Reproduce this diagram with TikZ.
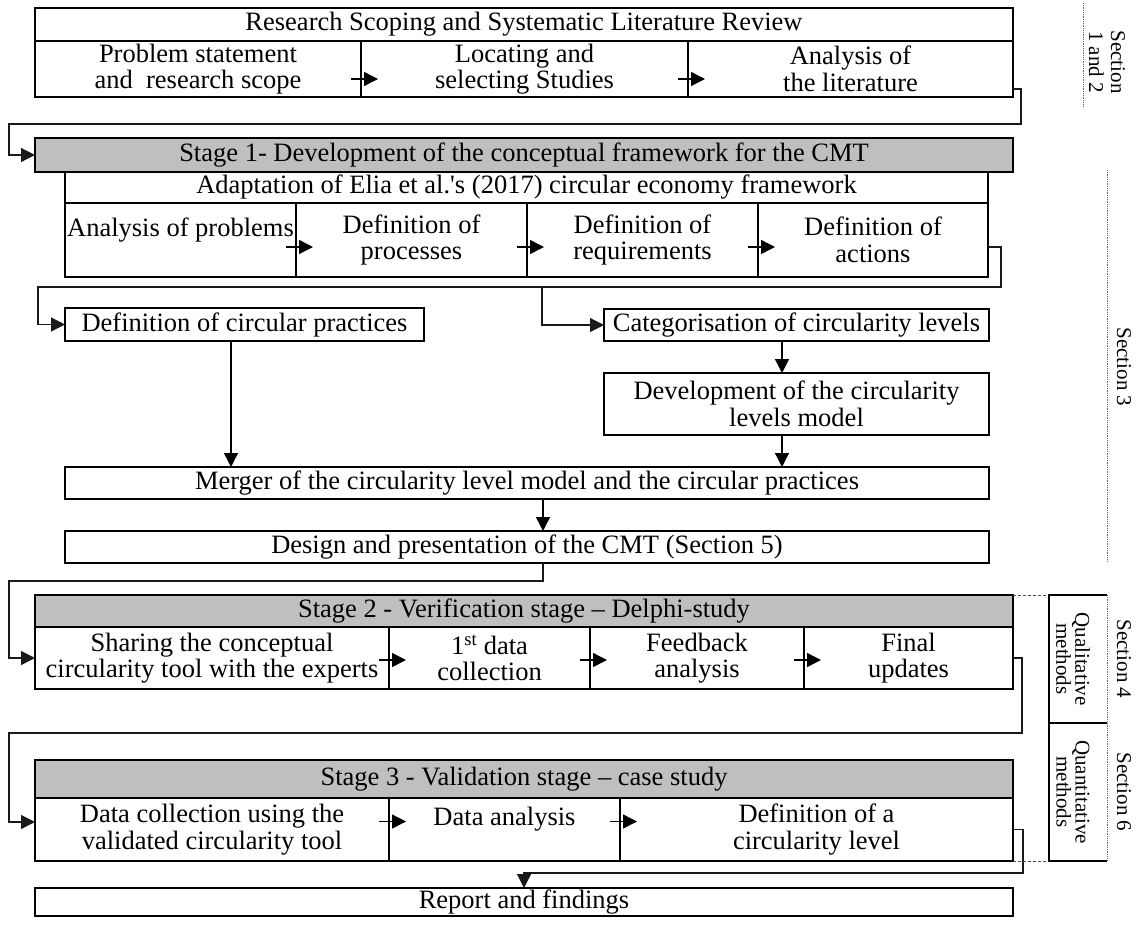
\documentclass[tikz,border=0pt]{standalone}
\usepackage{fontspec}
\setmainfont{Liberation Serif}[Ligatures=TeXOff]
\usetikzlibrary{arrows.meta}
\begin{document}
\begin{tikzpicture}[x=1pt,y=-1pt,
  cell/.style={draw=black, line width=1.6pt, anchor=north west, inner sep=0pt, outer sep=0pt,
    align=center, font=\fontsize{26.5}{26.5}\selectfont},
  head/.style={cell, fill=black!25},
  arr/.style={line width=1.4pt, -{Triangle[length=14pt,width=14pt]}},
  conn/.style={line width=1.2pt, draw=black!90, -{Triangle[length=14pt,width=14pt]}},
  dotline/.style={line width=0.8pt, draw=black!60, densely dotted},
  dashline/.style={line width=0.8pt, draw=black!70, densely dashed},
  sideline/.style={line width=1.6pt, draw=black},
  side/.style={inner sep=0pt, align=center, rotate=-90, font=\fontsize{21}{17}\selectfont}
]
\useasboundingbox (0,0) rectangle (1137,927);

% ---- Research scoping
\node[cell, minimum width=978pt, minimum height=33pt] (t0) at (35,8) {Research Scoping and Systematic Literature Review};
\node[cell, minimum width=326pt, minimum height=56pt] (t1) at (35,41) {Problem statement\\and~ research scope};
\node[cell, minimum width=327pt, minimum height=56pt] (t2) at (361,41) {Locating and\\selecting Studies};
\node[cell, minimum width=325pt, minimum height=56pt] (t3) at (688,41) {Analysis of\\the literature};
\draw[arr] ([shift={(-10,10)}]t1.east) -- ([shift={(17,10)}]t2.west);
\draw[arr] ([shift={(-10,10)}]t2.east) -- ([shift={(17,10)}]t3.west);

% ---- Stage 1
\node[head, minimum width=978pt, minimum height=34pt] (s1h) at (35,138) {Stage 1- Development of the conceptual framework for the CMT};
\node[cell, minimum width=923pt, minimum height=31pt] (s1a) at (65,172) {Adaptation of Elia et al.'s (2017) circular economy framework};
\node[cell, minimum width=231pt, minimum height=74pt] (s1c1) at (65,203) {Analysis of problems\\~};
\node[cell, minimum width=231pt, minimum height=74pt] (s1c2) at (296,203) {Definition of\\processes};
\node[cell, minimum width=231pt, minimum height=74pt] (s1c3) at (527,203) {Definition of\\requirements};
\node[cell, minimum width=230pt, minimum height=74pt] (s1c4) at (758,203) {Definition of\\actions};
\draw[arr] ([shift={(-10,7)}]s1c1.east) -- ([shift={(17,7)}]s1c2.west);
\draw[arr] ([shift={(-10,7)}]s1c2.east) -- ([shift={(17,7)}]s1c3.west);
\draw[arr] ([shift={(-10,7)}]s1c3.east) -- ([shift={(17,7)}]s1c4.west);

\draw[conn] ([yshift=-20pt]t3.east) -- ++(8,0) -- ++(0,35) -- (9,124) |- (s1h.west);

% ---- conceptual development
\node[cell, minimum width=359pt, minimum height=33pt] (dcp) at (65,308) {Definition of circular practices};
\node[cell, minimum width=385pt, minimum height=32pt] (cat) at (604,309) {Categorisation of circularity levels};
\node[cell, minimum width=385pt, minimum height=62pt] (dev) at (604,373) {Development of the circularity\\levels model};
\node[cell, minimum width=924pt, minimum height=32pt] (mer) at (65,467) {Merger of the circularity level model and the circular practices};
\node[cell, minimum width=924pt, minimum height=32pt] (des) at (65,531) {Design and presentation of the CMT (Section 5)};

\coordinate (br) at (542,287);
\draw[conn] ([yshift=-7pt]s1c4.east) -- ++(13,0) -- ++(0,40) -- (38,287) |- (dcp.west);
\draw[conn] (br) |- (cat.west);
\draw[arr] ([xshift=-14.5pt]cat.south) -- ([xshift=-14.5pt]dev.north);
\draw[arr] ([xshift=-14.5pt]dev.south) -- ([xshift=-14.5pt]dev.south |- mer.north);
\draw[arr] ([xshift=-13.5pt]dcp.south) -- ([xshift=-13.5pt]dcp.south |- mer.north);
\draw[arr] ([xshift=16pt]mer.south) -- ([xshift=16pt]des.north);

% ---- Stage 2
\node[head, minimum width=978pt, minimum height=32pt] (s2h) at (35,595) {Stage 2 - Verification stage – Delphi-study};
\node[cell, minimum width=354pt, minimum height=62pt] (s2c1) at (35,627) {Sharing the conceptual\\circularity tool with the experts};
\node[cell, minimum width=201pt, minimum height=62pt] (s2c2) at (389,627) {1\textsuperscript{st} data\\collection};
\node[cell, minimum width=214pt, minimum height=62pt] (s2c3) at (590,627) {Feedback\\analysis};
\node[cell, minimum width=209pt, minimum height=62pt] (s2c4) at (804,627) {Final\\updates};
\draw[arr] ([shift={(-10,2)}]s2c1.east) -- ([shift={(17,2)}]s2c2.west);
\draw[arr] ([shift={(-10,2)}]s2c2.east) -- ([shift={(17,2)}]s2c3.west);
\draw[arr] ([shift={(-10,2)}]s2c3.east) -- ([shift={(17,2)}]s2c4.west);

\draw[conn] ([xshift=16pt]des.south) -- ++(0,18) -- (9,581) |- (s2c1.west);

% ---- Stage 3
\node[head, minimum width=978pt, minimum height=38pt] (s3h) at (35,760) {Stage 3 - Validation stage – case study};
\node[cell, minimum width=354pt, minimum height=63pt] (s3c1) at (35,798) {Data collection using the\\validated circularity tool};
\node[cell, minimum width=231pt, minimum height=63pt] (s3c2) at (389,798) {Data analysis\\~};
\node[cell, minimum width=393pt, minimum height=63pt] (s3c3) at (620,798) {Definition of a\\circularity level};
\draw[arr] ([shift={(-10,-8)}]s3c1.east) -- ([shift={(17,-8)}]s3c2.west);
\draw[arr] ([shift={(-10,-8)}]s3c2.east) -- ([shift={(17,-8)}]s3c3.west);

\draw[conn] (s2c4.east) -- ++(9,0) -- ++(0,75) -- (9,733) |- ([yshift=7.5pt]s3c1.west);

% ---- Report
\node[cell, minimum width=978pt, minimum height=28pt] (rep) at (35,888) {Report and findings};
\draw[conn] (s3c3.east) -- ++(10,0) |- ([yshift=15pt]rep.north) -- (rep.north);

% ---- side labels
\coordinate (d1a) at (1083,3);
\coordinate (d1b) at (1083,107);
\draw[dotline] (d1a) -- (d1b);
\node[side, font=\fontsize{21}{22}\selectfont] (l12) at (1107,62) {Section\\1 and 2};

\coordinate (d3a) at (1107,170);
\coordinate (d3b) at (1107,562);
\draw[dotline] (d3a) -- (d3b);
\node[side] (l3) at (1124,367) {Section 3};

\coordinate (q1) at (1049,595);
\coordinate (q2) at (1107,595);
\coordinate (q3) at (1049,723);
\coordinate (q4) at (1107,723);
\coordinate (q5) at (1049,861);
\coordinate (q6) at (1107,861);
\draw[dashline] (s2h.north east) -- (q1);
\draw[dashline] (s3c3.south east) -- (q5);
\draw[sideline] (q2) -- (q1) -- (q5) -- (q6);
\draw[sideline] (q3) -- (q4);
\draw[dotline] (q2) -- (q6);
\node[side] (qual) at (1073,659) {Qualitative\\methods};
\node[side] (l4) at (1124,659) {Section 4};
\node[side] (quant) at (1073,792) {Quantitative\\methods};
\node[side] (l6) at (1124,792) {Section 6};
\end{tikzpicture}
\end{document}
